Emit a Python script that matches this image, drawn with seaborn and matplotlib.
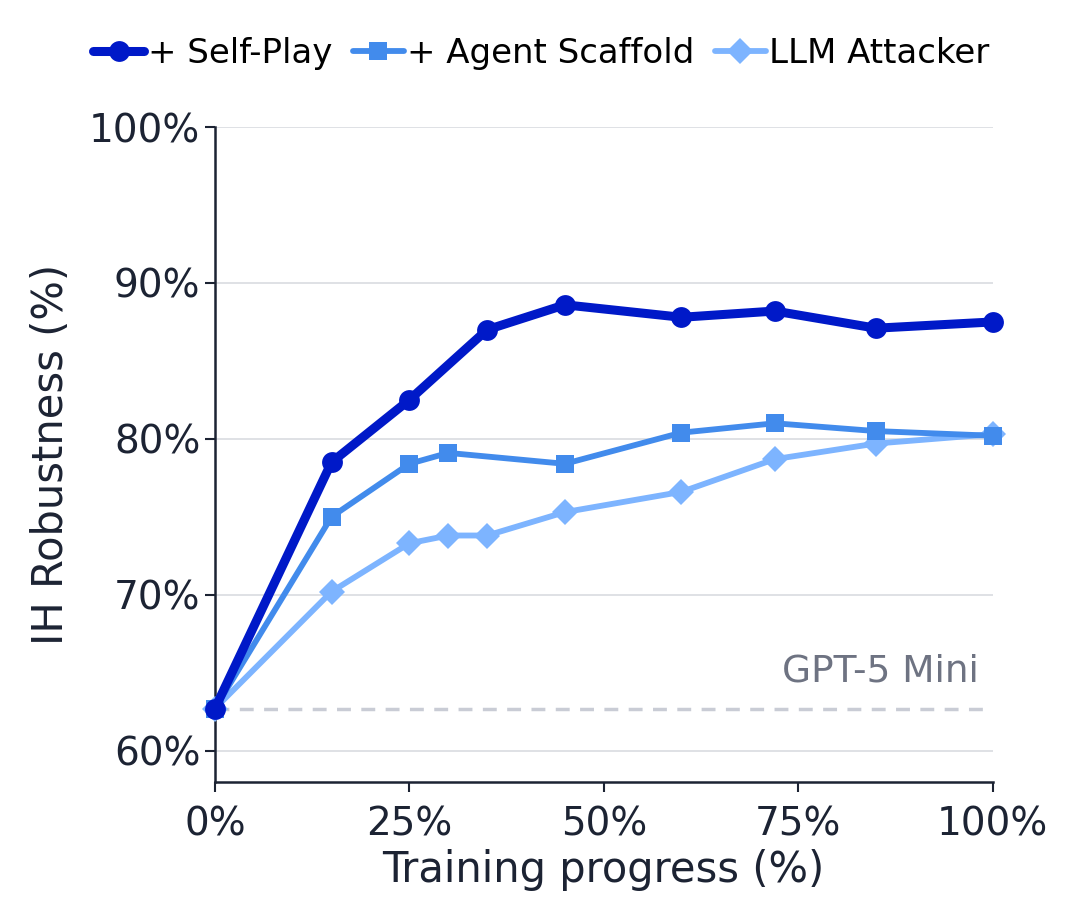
import matplotlib
matplotlib.use("Agg")
import matplotlib.pyplot as plt
import seaborn as sns
import pandas as pd
from matplotlib.ticker import FuncFormatter

progress_self = [0, 15, 25, 35, 45, 60, 72, 85, 100]
self_play = [62.7, 78.5, 82.5, 87.0, 88.6, 87.8, 88.2, 87.1, 87.5]

progress_agent = [0, 15, 25, 30, 45, 60, 72, 85, 100]
agent_scaffold = [62.7, 75.0, 78.4, 79.1, 78.4, 80.4, 81.0, 80.5, 80.2]

progress_llm = [0, 15, 25, 30, 35, 45, 60, 72, 85, 100]
llm_attacker = [62.7, 70.2, 73.3, 73.8, 73.8, 75.3, 76.6, 78.7, 79.7, 80.3]

baseline_value = 62.7
baseline_label = "GPT-5 Mini"
y_ticks = [60, 70, 80, 90, 100]
x_ticks = [0, 25, 50, 75, 100]

sns.set_theme(style="white")
plt.rcParams['font.family'] = ['DejaVu Sans']
text_color = "#1c2333"

fig = plt.figure(figsize=(10.8, 9.08), dpi=100)
ax = fig.add_axes([0.199, 0.139, 0.720, 0.721])

for y in y_ticks:
    ax.axhline(y, color="#dcdee3", lw=1.3, zorder=0)

ax.axhline(baseline_value, color="#c9ccd5", lw=2.5, ls=(0, (4, 3)), zorder=1)
ax.text(98.3, baseline_value + 1.2, baseline_label, ha="right", va="bottom",
        fontsize=27, color="#6e7382")

series = [
    ("+ Self-Play", progress_self, self_play, "#0019c8", "o", 6.5, 15),
    ("+ Agent Scaffold", progress_agent, agent_scaffold, "#428bec", "s", 4.2, 13),
    ("LLM Attacker", progress_llm, llm_attacker, "#7db4ff", "D", 4.2, 13),
]
for name, xs, ys, col, mk, lw, ms in reversed(series):
    df = pd.DataFrame({"x": xs, "y": ys})
    sns.lineplot(data=df, x="x", y="y", ax=ax, color=col, marker=mk, lw=lw,
                 markersize=ms, markeredgewidth=0, label=name, clip_on=False,
                 zorder=3)

ax.set_xlim(0, 100)
ax.set_ylim(58, 100)
ax.set_xticks(x_ticks)
ax.set_yticks(y_ticks)
ax.xaxis.set_major_formatter(FuncFormatter(lambda v, p: f"{int(v)}%"))
ax.yaxis.set_major_formatter(FuncFormatter(lambda v, p: f"{int(v)}%"))
ax.tick_params(axis="both", labelsize=28, colors=text_color, length=7, width=1.5,
               direction="out", left=True, bottom=True)
ax.tick_params(axis="x", pad=10)
ax.set_xlabel("Training progress (%)", fontsize=30, color=text_color, labelpad=4)
ax.set_ylabel("IH Robustness (%)", fontsize=30, color=text_color, labelpad=12)

for s in ["top", "right"]:
    ax.spines[s].set_visible(False)
for s in ["left", "bottom"]:
    ax.spines[s].set_color(text_color)
    ax.spines[s].set_linewidth(1.8)

handles, labels = ax.get_legend_handles_labels()
handles, labels = handles[::-1], labels[::-1]
ax.legend(handles, labels, loc="lower center", bbox_to_anchor=(0.42, 1.04), ncol=3,
          frameon=False, fontsize=24.5, handlelength=1.5, handletextpad=0.1,
          columnspacing=0.6, labelcolor="black")

fig.savefig("out.png", dpi=100, facecolor="white")
